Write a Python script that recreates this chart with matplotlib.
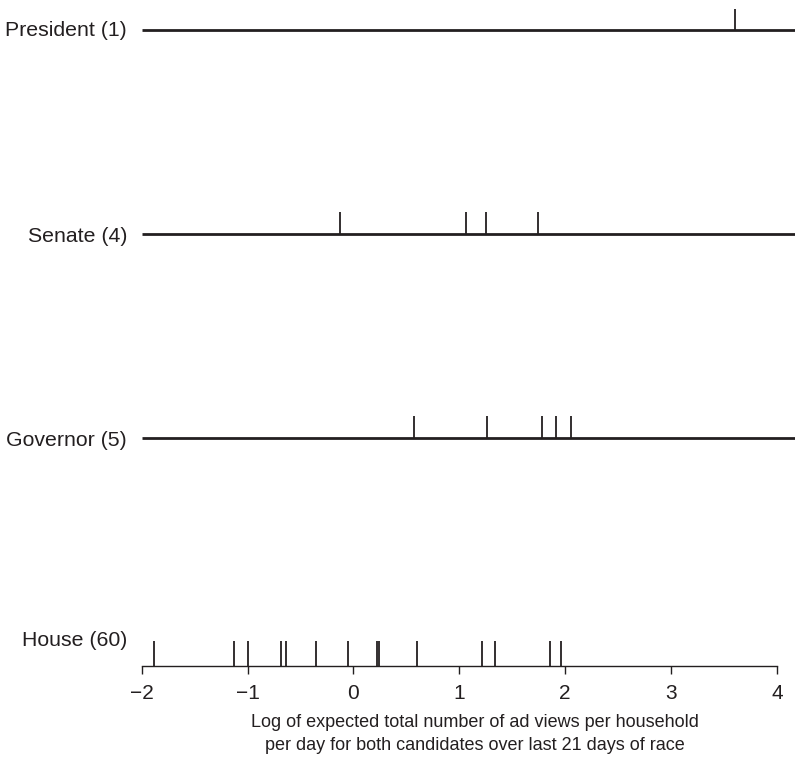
import matplotlib
matplotlib.use("Agg")
import matplotlib.pyplot as plt

plt.rcParams['font.family'] = ['Liberation Sans', 'DejaVu Sans']

categories = ["President (1)", "Senate (4)", "Governor (5)", "House (60)"]
president = [3.60]
senate = [-0.13, 1.06, 1.25, 1.74]
governor = [0.57, 1.26, 1.78, 1.91, 2.05]
house = [-1.88, -1.13, -1.00, -0.68, -0.64, -0.35, -0.05, 0.22, 0.24,
         0.60, 1.21, 1.34, 1.86, 1.96]
xticks = [-2, -1, 0, 1, 2, 3, 4]
xlabel = "Log of expected total number of ad views per household\nper day for both candidates over last 21 days of race"

series = [president, senate, governor, house]
row_y = [0.955, 0.649, 0.343, 0.0]
rug_h = [0.032, 0.032, 0.032, 0.038]

col = '#231f20'
fig = plt.figure(figsize=(7.95, 7.62), dpi=100)
ax = fig.add_axes([141.7/795, 96/762, 1 - 141.7/795, 666/762])
ax.set_xlim(-2, 4.17)
ax.set_ylim(0, 1)

for i, (vals, y) in enumerate(zip(series, row_y)):
    if i < 3:
        ax.hlines(y, -2, 4.17, color=col, lw=2.0, clip_on=False)
    ax.vlines(vals, y, y + rug_h[i], color=col, lw=1.3, clip_on=False)

for s in ['top', 'right', 'left']:
    ax.spines[s].set_visible(False)
ax.spines['bottom'].set_bounds(-2, 4)
ax.spines['bottom'].set_color(col)
ax.spines['bottom'].set_linewidth(1.0)
ax.set_yticks([])
ax.set_xticks(xticks)
ax.set_xticklabels([str(t).replace('-', '\u2212') for t in xticks])
ax.tick_params(axis='x', direction='out', length=6, width=1.0, color=col,
               labelsize=15, labelcolor=col, pad=7)

# row labels
label_px = [(127, 31), (127, 237), (127, 440), (127, 640)]
for name, (px, py) in zip(categories, label_px):
    fig.text(px/795, 1 - py/762, name, ha='right', va='center',
             fontsize=15.3, color=col)

fig.text(475/795, 1 - 734/762, xlabel, ha='center', va='center',
         fontsize=13, color=col, linespacing=1.45)

fig.savefig("out.png", dpi=100)
